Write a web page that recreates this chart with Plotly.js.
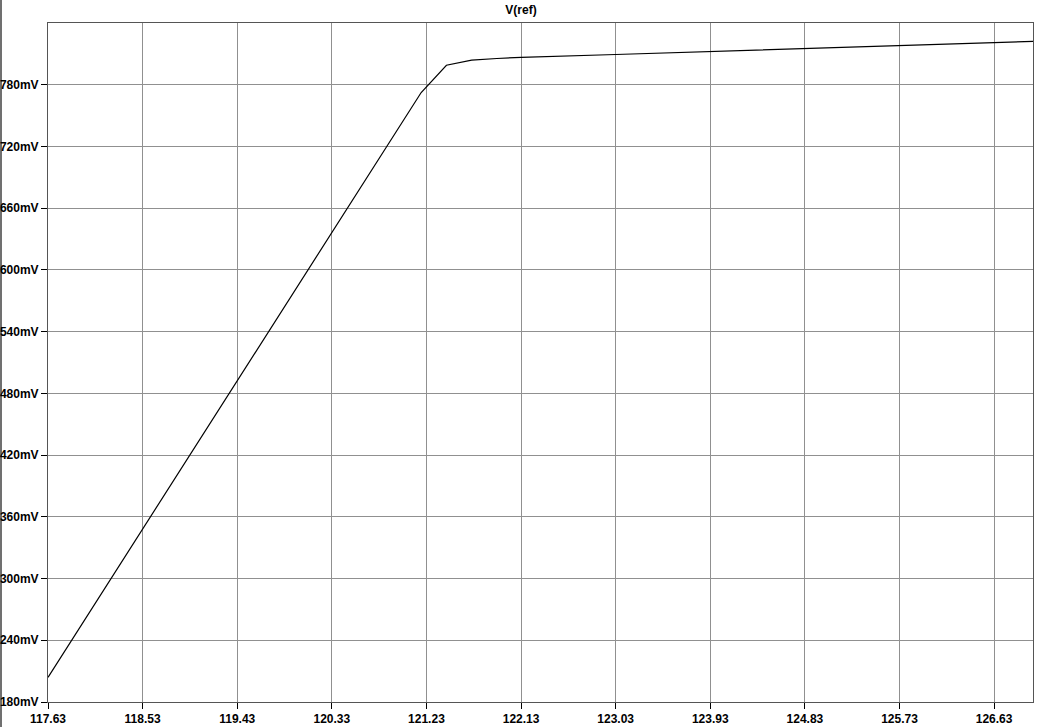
<!DOCTYPE html>
<html>
<head>
<meta charset="utf-8">
<script src="https://cdn.plot.ly/plotly-3.0.1.min.js"></script>
<style>
	html, body { margin: 0; padding: 0; background: #fff; }
	#edge { position: absolute; left: 0; top: 0; width: 2px; height: 727px; background: #707070; }
	#plot { position: absolute; left: 0; top: 0; width: 1042px; height: 727px; }
</style>
</head>
<body>
<div id="edge"></div>
<div id="plot"></div>
<script>
// sweep value and V(ref) in mV
const sweepValues = [117.63, 121.18, 121.42, 121.66, 121.9, 122.13, 123.03, 124.83, 127.0];
const vrefMilliVolts = [204.0, 772.4, 798.9, 804.0, 805.5, 806.6, 809.4, 815.0, 822.2];

const xTicks = [117.63, 118.53, 119.43, 120.33, 121.23, 122.13, 123.03, 123.93, 124.83, 125.73, 126.63];
const xTickLabels = ["117.63", "118.53", "119.43", "120.33", "121.23", "122.13", "123.03", "123.93", "124.83", "125.73", "126.63"];
const yTicks = [180, 240, 300, 360, 420, 480, 540, 600, 660, 720, 780];
const yTickLabels = ["180mV", "240mV", "300mV", "360mV", "420mV", "480mV", "540mV", "600mV", "660mV", "720mV", "780mV"];

const tickFont = { family: "Liberation Sans, Arial, sans-serif", size: 12, weight: "bold", color: "#000" };

let data = [{
	x: sweepValues,
	y: vrefMilliVolts,
	type: "scatter",
	mode: "lines",
	line: { color: "#000", width: 1.2 },
	hoverinfo: "skip"
}];

let layout = {
	width: 1042,
	height: 727,
	margin: { l: 48, r: 9, t: 23, b: 25 },
	paper_bgcolor: "rgba(0,0,0,0)",
	plot_bgcolor: "#fff",
	showlegend: false,
	title: {
		text: "V(ref)",
		font: { family: "Liberation Sans, Arial, sans-serif", size: 12, weight: "bold", color: "#000" },
		x: 0.5,
		xref: "container",
		xanchor: "center",
		y: 0.986,
		yref: "container",
		yanchor: "middle"
	},
	xaxis: {
		range: [117.63, 127.0],
		tickmode: "array",
		tickvals: xTicks,
		ticktext: xTickLabels,
		ticks: "outside",
		ticklen: 6,
		tickcolor: "#000",
		tickwidth: 1,
		tickfont: tickFont,
		showgrid: true,
		gridcolor: "#909090",
		gridwidth: 1,
		showline: true,
		mirror: true,
		linecolor: "#555",
		linewidth: 1,
		zeroline: false
	},
	yaxis: {
		range: [180, 840],
		tickmode: "array",
		tickvals: yTicks,
		ticktext: yTickLabels,
		ticks: "outside",
		ticklen: 6,
		tickcolor: "#000",
		tickwidth: 1,
		tickfont: tickFont,
		showgrid: true,
		gridcolor: "#909090",
		gridwidth: 1,
		showline: true,
		mirror: true,
		linecolor: "#555",
		linewidth: 1,
		zeroline: false
	}
};

Plotly.newPlot("plot", data, layout, { displayModeBar: false, staticPlot: true });
</script>
</body>
</html>
